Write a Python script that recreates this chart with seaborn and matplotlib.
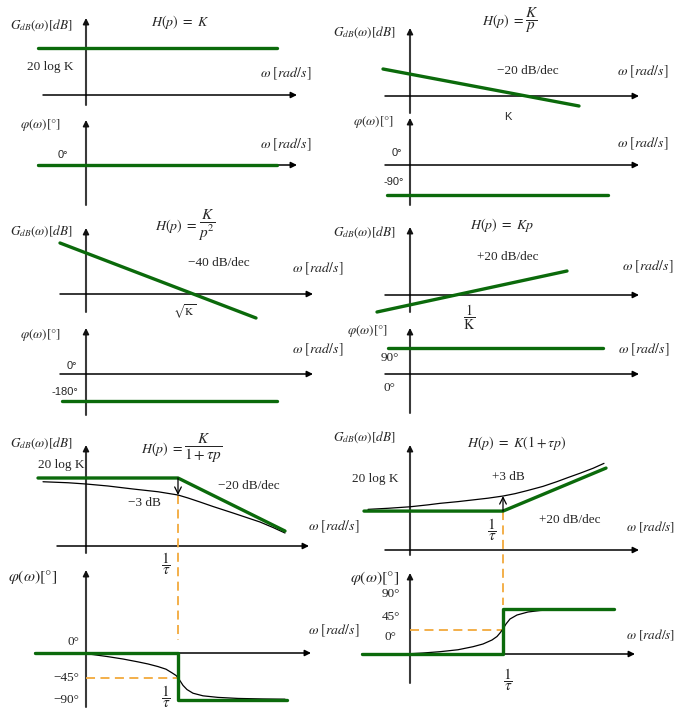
import matplotlib
matplotlib.use('Agg')
import matplotlib.pyplot as plt
import seaborn as sns

sns.set_theme(style="white")
plt.rcParams['font.family'] = ['Liberation Serif', 'DejaVu Serif']
plt.rcParams['mathtext.fontset'] = 'stix'

W, H = 677, 710
GREEN = '#0b6a0b'
ORANGE = '#f2a93b'

# ---- data (x = log10 of omega relative to the marked point, y = dB or degrees) ----
# H(p) = K
k_gain_x = [-0.48, 1.91]
k_gain_y = [47, 47]
k_phase_x = [-0.48, 1.91]
k_phase_y = [0, 0]

# H(p) = K/p
int_gain_x = [-1.43, 0.53]
int_gain_y = [27, -10]
int_phase_x = [-1.39, 0.82]
int_phase_y = [-90, -90]

# H(p) = K/p^2
dint_gain_x = [-1.33, 0.63]
dint_gain_y = [51, -24]
dint_phase_x = [-1.31, 0.84]
dint_phase_y = [-180, -180]

# H(p) = Kp
der_gain_x = [-0.79, 1.11]
der_gain_y = [-17, 24]
der_phase_x = [-0.68, 1.47]
der_phase_y = [90, 90]

# H(p) = K/(1+tau p)
lp_asym_x = [-1.40, 0, 1.07]
lp_asym_y = [27.2, 27.2, 6.0]
lp_real_x = [-1.35, -1.1, -0.92, -0.7, -0.45, -0.2, 0, 0.1, 0.22, 0.35, 0.55, 0.7, 0.82, 0.95, 1.07]
lp_real_y = [25.7, 25.3, 24.8, 24.0, 22.8, 21.7, 20.4, 19.2, 17.6, 15.8, 13.2, 11.2, 9.6, 7.4, 5.2]
lp_ph_asym_x = [-1.43, 0, 0, 1.09]
lp_ph_asym_y = [0, 0, -90, -90]
lp_ph_real_x = [-0.99, -0.85, -0.7, -0.55, -0.4, -0.3, -0.2, -0.12, -0.06, -0.02, 0,
                0.02, 0.05, 0.09, 0.15, 0.25, 0.4, 0.6, 0.85, 1.07]
lp_ph_real_y = [0, -3, -7, -11.5, -17, -21, -26, -31, -38, -43, -47,
                -53, -62, -70, -77, -82, -85, -87, -88, -88.5]

# H(p) = K(1+tau p)
ld_asym_x = [-1.39, 0, 1.03]
ld_asym_y = [18.1, 18.1, 38.1]
ld_real_x = [-1.35, -1.15, -0.93, -0.75, -0.63, -0.45, -0.30, -0.15, 0, 0.12, 0.24,
             0.4, 0.54, 0.65, 0.77, 0.9, 1.01]
ld_real_y = [18.9, 19.4, 20.1, 21.0, 21.7, 22.5, 23.3, 24.1, 25.1, 26.2, 27.6,
             29.6, 31.8, 33.7, 35.7, 38.0, 40.3]
ld_ph_asym_x = [-1.41, 0, 0, 1.11]
ld_ph_asym_y = [0, 0, 90, 90]
ld_ph_real_x = [-0.98, -0.8, -0.63, -0.45, -0.3, -0.2, -0.11, -0.06, -0.03, 0, 0.03,
                0.07, 0.14, 0.25, 0.37, 0.55, 0.70, 1.10]
ld_ph_real_y = [0, 2, 4.6, 8.5, 14.6, 20, 28, 35, 42, 50, 60,
                70, 78, 84, 87, 89, 90, 90]

fig = plt.figure(figsize=(W / 100, H / 100), dpi=100)
base = fig.add_axes([0, 0, 1, 1])
base.set_axis_off()
base.set_xlim(0, W)
base.set_ylim(H, 0)

limits = []


def panel(px0, py0, sx, sy):
    # axes whose data point (0, 0) lands on pixel (px0, py0)
    ax = fig.add_axes([0, 0, 1, 1])
    ax.set_axis_off()
    ax.patch.set_alpha(0)
    limits.append((ax, (-px0 / sx, (W - px0) / sx), ((py0 - H) / sy, py0 / sy)))
    return ax


def arrow(x0, y0, x1, y1, color='black', lw=1.1):
    base.annotate('', xy=(x1, y1), xytext=(x0, y0),
                  arrowprops=dict(arrowstyle='-|>', color=color, lw=lw,
                                  mutation_scale=9, shrinkA=0, shrinkB=0))


def axes_pair(xv, v0, v1, yh, h0, h1):
    base.plot([xv, xv], [v0, v1 + 4], color='#3a3a3a', lw=1.5)
    arrow(xv, v1 + 6, xv, v1, color='#111111')
    arrow(h0, yh, h1, yh)


def green(ax, xs, ys):
    sns.lineplot(x=xs, y=ys, ax=ax, color=GREEN, linewidth=2.4,
                 estimator=None, sort=False, legend=False)


def black(ax, xs, ys):
    sns.lineplot(x=xs, y=ys, ax=ax, color='black', linewidth=0.9,
                 estimator=None, sort=False, legend=False)


def txt(x, y, s, size=9.5, ha='left', family=None):
    kw = {}
    if family:
        kw['family'] = family
    base.text(x, y, s, fontsize=size, ha=ha, va='center', **kw)


def hfrac(xeq, y, frac):
    # "H(p) =" at normal size, the fraction a bit larger
    txt(xeq, y, r'$H(p)\ =\ $', size=10, ha='right')
    txt(xeq + 1, y, frac, size=11)


G_LAB = r'$G_{dB}(\omega)[dB]$'
P_LAB = r'$\varphi(\omega)[°]$'
W_LAB = r'$\omega\ [rad/s]$'
SANS = ['Liberation Sans', 'DejaVu Sans']
WS = 10
FS = 11

# ---------- panel 1 : K ----------
axes_pair(86, 105, 18, 95, 43, 297)
axes_pair(86, 205, 120, 165, 38, 297)
a = panel(86, 95, 100, 1)
green(a, k_gain_x, k_gain_y)
a = panel(86, 165, 100, 1 / 3)
green(a, k_phase_x, k_phase_y)
txt(10, 25, G_LAB)
txt(180, 22, r'$H(p)\ =\ K$', size=10, ha='center')
txt(27, 67, '20 log K')
txt(260, 74, W_LAB, size=WS)
txt(20, 125, P_LAB)
txt(63, 155, '0°', size=8, ha='center', family=SANS)
txt(260, 145, W_LAB, size=WS)

# ---------- panel 2 : K/p ----------
axes_pair(410, 113, 28, 96, 385, 639)
axes_pair(410, 205, 118, 165, 385, 639)
a = panel(526, 96, 100, 1)
green(a, int_gain_x, int_gain_y)
a = panel(526, 165, 100, 1 / 3)
green(a, int_phase_x, int_phase_y)
txt(333, 32, G_LAB)
hfrac(524, 21, r'$\dfrac{K}{p}$')
txt(528, 71, '−20 dB/dec', ha='center')
txt(617, 72, W_LAB, size=WS)
txt(508, 117, 'K', size=8, ha='center', family=SANS)
txt(353, 122, P_LAB)
txt(397, 153, '0°', size=8, ha='center', family=SANS)
txt(394, 182, '-90°', size=8, ha='center', family=SANS)
txt(617, 144, W_LAB, size=WS)

# ---------- panel 3 : K/p^2 ----------
axes_pair(86, 312, 228, 294, 60, 313)
axes_pair(86, 415, 328, 374, 60, 313)
a = panel(193, 294, 100, 1)
green(a, dint_gain_x, dint_gain_y)
a = panel(193, 374, 100, 0.15)
green(a, dint_phase_x, dint_phase_y)
txt(10, 231, G_LAB)
hfrac(197, 226, r'$\dfrac{K}{p^2}$')
txt(219, 263, '−40 dB/dec', ha='center')
txt(292, 269, W_LAB, size=WS)
txt(185, 312, r'$\sqrt{\mathrm{K}}$', size=8, ha='center')
txt(20, 335, P_LAB)
txt(72, 366, '0°', size=8, ha='center', family=SANS)
txt(65, 392, '-180°', size=8, ha='center', family=SANS)
txt(292, 350, W_LAB, size=WS)

# ---------- panel 4 : Kp ----------
axes_pair(410, 312, 227, 295, 385, 639)
axes_pair(410, 413, 328, 374, 385, 639)
a = panel(456, 295, 100, 1)
green(a, der_gain_x, der_gain_y)
a = panel(456, 374, 100, 26 / 90)
green(a, der_phase_x, der_phase_y)
txt(333, 232, G_LAB)
txt(502, 225, r'$H(p)\ =\ Kp$', size=10, ha='center')
txt(508, 257, '+20 dB/dec', ha='center')
txt(622, 267, W_LAB, size=WS)
txt(469, 317, r'$\dfrac{1}{\mathrm{K}}$', size=10, ha='center')
txt(347, 331, P_LAB)
txt(390, 358, '90°', ha='center')
txt(389, 388, '0°', ha='center')
txt(618, 350, W_LAB, size=WS)

# ---------- panel 5 : K/(1+tau p) ----------
axes_pair(86, 553, 445, 546, 57, 309)
axes_pair(86, 707, 570, 653, 35, 311)
a = panel(178, 546, 100, 2.5)
a.plot([0, 0], [lp_real_y[6], -37.6], color=ORANGE, lw=1.3, ls=(0, (5, 3)))
black(a, lp_real_x, lp_real_y)
green(a, lp_asym_x, lp_asym_y)
a.annotate('', xy=(0, lp_real_y[6]), xytext=(0, lp_asym_y[1]),
           arrowprops=dict(arrowstyle='->', color='black', lw=0.9, shrinkA=0, shrinkB=0))
a = panel(178, 653, 100, 47 / 90)
a.plot([-0.92, 0], [-47, -47], color=ORANGE, lw=1.3, ls=(0, (5, 3)))
black(a, lp_ph_real_x, lp_ph_real_y)
green(a, lp_ph_asym_x, lp_ph_asym_y)
txt(10, 443, G_LAB)
hfrac(183, 449, r'$\dfrac{K}{1+\tau p}$')
txt(38, 465, '20 log K')
txt(249, 486, '−20 dB/dec', ha='center')
txt(144, 503, '−3 dB', ha='center')
txt(308, 527, W_LAB, size=WS)
txt(166, 564, r'$\dfrac{1}{\tau}$', size=FS, ha='center')
txt(8, 577, P_LAB, size=11.5)
txt(73, 642, '0°', ha='center')
txt(66, 678, '−45°', ha='center')
txt(66, 700, '−90°', ha='center')
txt(166, 697, r'$\dfrac{1}{\tau}$', size=FS, ha='center')
txt(308, 631, W_LAB, size=WS)

# ---------- panel 6 : K(1+tau p) ----------
axes_pair(410, 555, 445, 550, 385, 639)
axes_pair(410, 683, 573, 654, 362, 635)
a = panel(503, 550, 100, 2.15)
a.plot([0, 0], [ld_asym_y[1], -25.6], color=ORANGE, lw=1.3, ls=(0, (5, 3)))
black(a, ld_real_x, ld_real_y)
green(a, ld_asym_x, ld_asym_y)
a.annotate('', xy=(0, ld_real_y[8]), xytext=(0, ld_asym_y[1]),
           arrowprops=dict(arrowstyle='->', color='black', lw=0.9, shrinkA=0, shrinkB=0))
a = panel(503, 654, 100, 0.5)
a.plot([-0.93, 0], [48, 48], color=ORANGE, lw=1.3, ls=(0, (5, 3)))
black(a, ld_ph_real_x, ld_ph_real_y)
green(a, ld_ph_asym_x, ld_ph_asym_y)
txt(333, 437, G_LAB)
txt(517, 443, r'$H(p)\ =\ K(1+\tau p)$', size=10, ha='center')
txt(375, 479, '20 log K', ha='center')
txt(508, 477, '+3 dB', ha='center')
txt(492, 530, r'$\dfrac{1}{\tau}$', size=FS, ha='center')
txt(570, 520, '+20 dB/dec', ha='center')
txt(675, 527, W_LAB, size=9.5, ha='right')
txt(350, 578, P_LAB, size=11.5)
txt(391, 594, '90°', ha='center')
txt(391, 617, '45°', ha='center')
txt(390, 637, '0°', ha='center')
txt(675, 635, W_LAB, size=9.5, ha='right')
txt(508, 680, r'$\dfrac{1}{\tau}$', size=FS, ha='center')

for ax, xl, yl in limits:
    ax.set_xlim(*xl)
    ax.set_ylim(*yl)

fig.savefig('out.png', dpi=100)
plt.close(fig)
